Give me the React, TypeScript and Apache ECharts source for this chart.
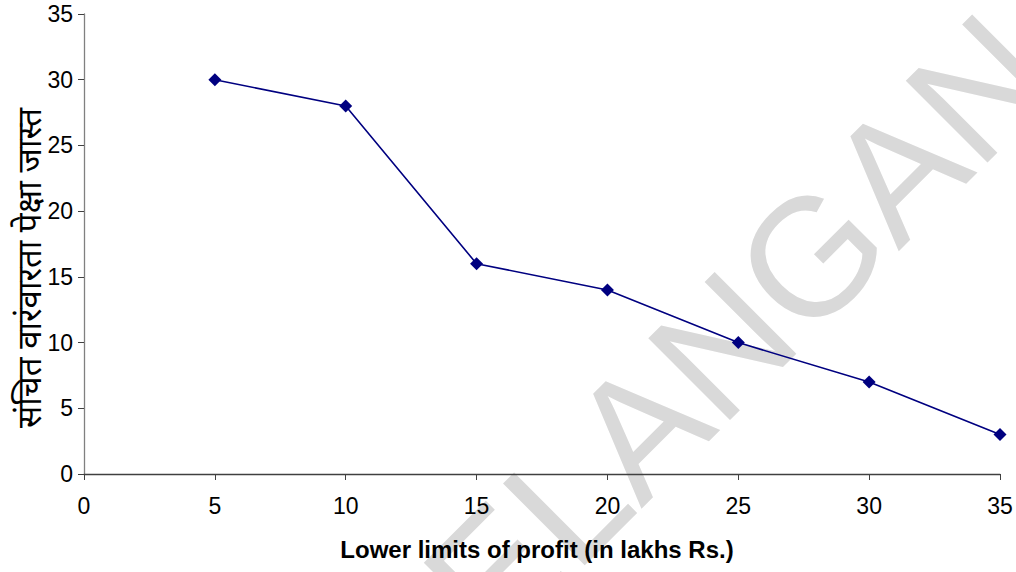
import React, { useEffect, useRef } from "react";
import * as echarts from "echarts";

const xValues = [5, 10, 15, 20, 25, 30, 35];
const yValues = [30, 28, 16, 14, 10, 7, 3];
const xAxisTitle = "Lower limits of profit (in lakhs Rs.)";
const yAxisTitle = "संचित वारंवारता पेक्षा जास्त";
const watermarkText = "TELANGANA";

export default function App() {
  const ref = useRef<HTMLDivElement>(null);
  useEffect(() => {
    if (!ref.current) return;
    const chart = echarts.init(ref.current, undefined, { renderer: "svg" });
    const font = "'Liberation Sans', Arial, sans-serif";
    chart.setOption({
      animation: false,
      backgroundColor: "#ffffff",
      grid: { left: 84, right: 16, top: 14, bottom: 98, containLabel: false },
      xAxis: {
        type: "value",
        min: 0,
        max: 35,
        interval: 5,
        name: xAxisTitle,
        nameLocation: "middle",
        nameGap: 63,
        nameTextStyle: {
          fontFamily: font,
          fontSize: 24,
          fontWeight: "bold",
          color: "#000",
          padding: [0, 10, 0, 0],
        },
        axisLine: { show: true, onZero: false, lineStyle: { color: "#404040", width: 1.3 } },
        axisTick: { show: true, inside: false, length: 6, lineStyle: { color: "#404040" } },
        axisLabel: { fontFamily: font, fontSize: 23, color: "#000", margin: 20 },
        splitLine: { show: false },
      },
      yAxis: {
        type: "value",
        min: 0,
        max: 35,
        interval: 5,
        axisLine: { show: true, onZero: false, lineStyle: { color: "#808080", width: 1.3 } },
        axisTick: { show: true, inside: false, length: 6, lineStyle: { color: "#404040" } },
        axisLabel: { fontFamily: font, fontSize: 23, color: "#000", margin: 11 },
        splitLine: { show: false },
      },
      graphic: [
        {
          type: "text",
          x: 742,
          y: 326,
          rotation: Math.PI / 4,
          z: -10,
          silent: true,
          style: {
            text: watermarkText,
            fontFamily: font,
            fontSize: 168,
            fill: "#d9d9d9",
            align: "center",
            verticalAlign: "middle",
          },
        },
        {
          type: "text",
          x: 28,
          y: 268,
          rotation: Math.PI / 2,
          style: {
            text: yAxisTitle,
            fontFamily: "'Noto Sans', 'Noto Sans Devanagari', sans-serif",
            fontSize: 33,
            fill: "#000",
            align: "center",
            verticalAlign: "middle",
          },
        },
      ],
      series: [
        {
          type: "line",
          data: xValues.map((x, i) => [x, yValues[i]]),
          symbol: "diamond",
          symbolSize: 13,
          z: 5,
          lineStyle: { color: "#000080", width: 1.6 },
          itemStyle: { color: "#000080" },
        },
      ],
    });
    return () => chart.dispose();
  }, []);
  return (
    <div
      ref={ref}
      style={{ position: "fixed", left: 0, top: 0, width: 1016, height: 572 }}
    />
  );
}
